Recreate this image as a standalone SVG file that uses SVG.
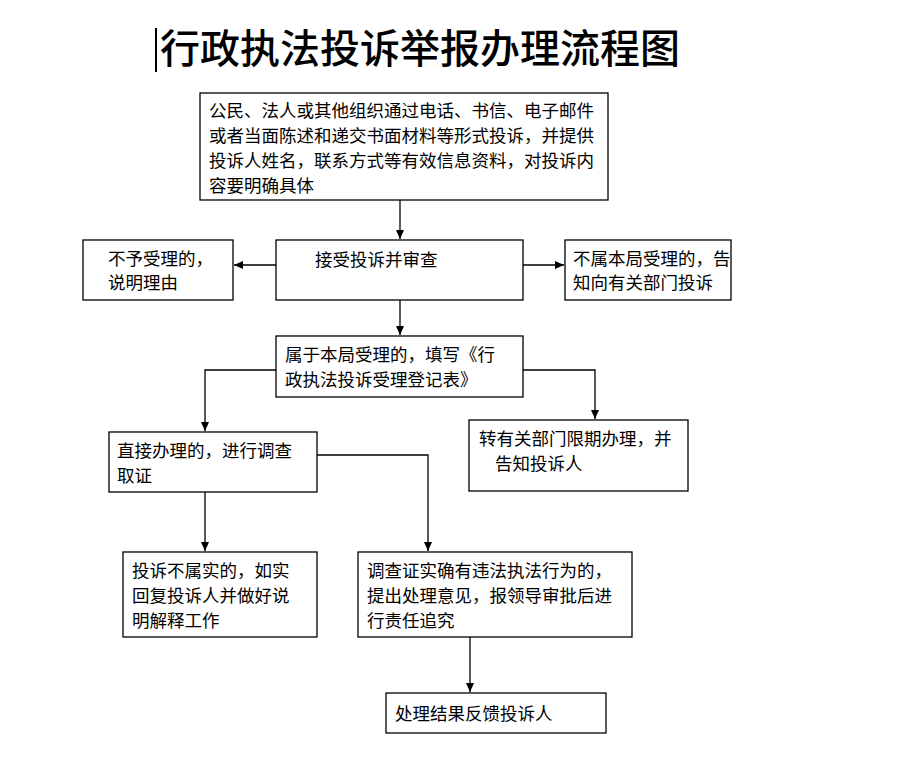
<svg xmlns="http://www.w3.org/2000/svg" width="900" height="781" viewBox="0 0 900 781">
<defs>
<marker id="ah" markerWidth="10" markerHeight="10" refX="9" refY="5" orient="auto" markerUnits="userSpaceOnUse"><path d="M0,1 L9,5 L0,9 Z" fill="#000"/></marker>
<style>
.b{fill:#fff;stroke:#000;stroke-width:1.3}
.t{font-family:"Liberation Sans","Noto Sans CJK SC",sans-serif;font-size:17.5px;fill:#000}
.c{fill:none;stroke:#000;stroke-width:1.3;marker-end:url(#ah)}
</style>
</defs>
<rect width="900" height="781" fill="#fff"/>
<g id="title">
<line x1="156" y1="28" x2="156" y2="72" stroke="#000" stroke-width="2"/>
<text x="160" y="63" style="font-family:'Noto Sans CJK SC',sans-serif;font-size:40px;font-weight:500">行政执法投诉举报办理流程图</text>
</g>
<g id="connectors">
<path class="c" d="M400,200 V239"/>
<path class="c" d="M276,265 H234"/>
<path class="c" d="M523,265 H564"/>
<path class="c" d="M400,300 V335"/>
<path class="c" d="M276,370 H205 V431"/>
<path class="c" d="M523,370 H595 V419"/>
<path class="c" d="M205,492 V551"/>
<path class="c" d="M317,455 H428 V551"/>
<path class="c" d="M470,637 V692"/>
</g>
<g id="n1"><rect class="b" x="200" y="93" width="408" height="107"/>
<text class="t" x="209" y="117">公民、法人或其他组织通过电话、书信、电子邮件</text>
<text class="t" x="209" y="142">或者当面陈述和递交书面材料等形式投诉，并提供</text>
<text class="t" x="209" y="167">投诉人姓名，联系方式等有效信息资料，对投诉内</text>
<text class="t" x="209" y="192">容要明确具体</text></g>
<g id="n2"><rect class="b" x="276" y="240" width="247" height="60"/><text class="t" x="315" y="266">接受投诉并审查</text></g>
<g id="n3"><rect class="b" x="83" y="240" width="150" height="60"/><text class="t" x="108" y="265">不予受理的，</text><text class="t" x="108" y="289">说明理由</text></g>
<g id="n4"><rect class="b" x="565" y="240" width="166" height="60"/><text class="t" x="573" y="265">不属本局受理的，告</text><text class="t" x="573" y="289">知向有关部门投诉</text></g>
<g id="n5"><rect class="b" x="276" y="336" width="247" height="61"/><text class="t" x="285" y="361">属于本局受理的，填写《行</text><text class="t" x="285" y="386">政执法投诉受理登记表》</text></g>
<g id="n6"><rect class="b" x="109" y="432" width="208" height="60"/><text class="t" x="117" y="457">直接办理的，进行调查</text><text class="t" x="117" y="482">取证</text></g>
<g id="n7"><rect class="b" x="469" y="420" width="219" height="71"/><text class="t" x="479" y="445">转有关部门限期办理，并</text><text class="t" x="495" y="470">告知投诉人</text></g>
<g id="n8"><rect class="b" x="123" y="552" width="194" height="85"/><text class="t" x="132" y="577">投诉不属实的，如实</text><text class="t" x="132" y="602">回复投诉人并做好说</text><text class="t" x="132" y="627">明解释工作</text></g>
<g id="n9"><rect class="b" x="358" y="552" width="274" height="85"/><text class="t" x="367" y="577">调查证实确有违法执法行为的，</text><text class="t" x="367" y="602">提出处理意见，报领导审批后进</text><text class="t" x="367" y="627">行责任追究</text></g>
<g id="n10"><rect class="b" x="386" y="693" width="220" height="40"/><text class="t" x="395" y="720">处理结果反馈投诉人</text></g>
</svg>
